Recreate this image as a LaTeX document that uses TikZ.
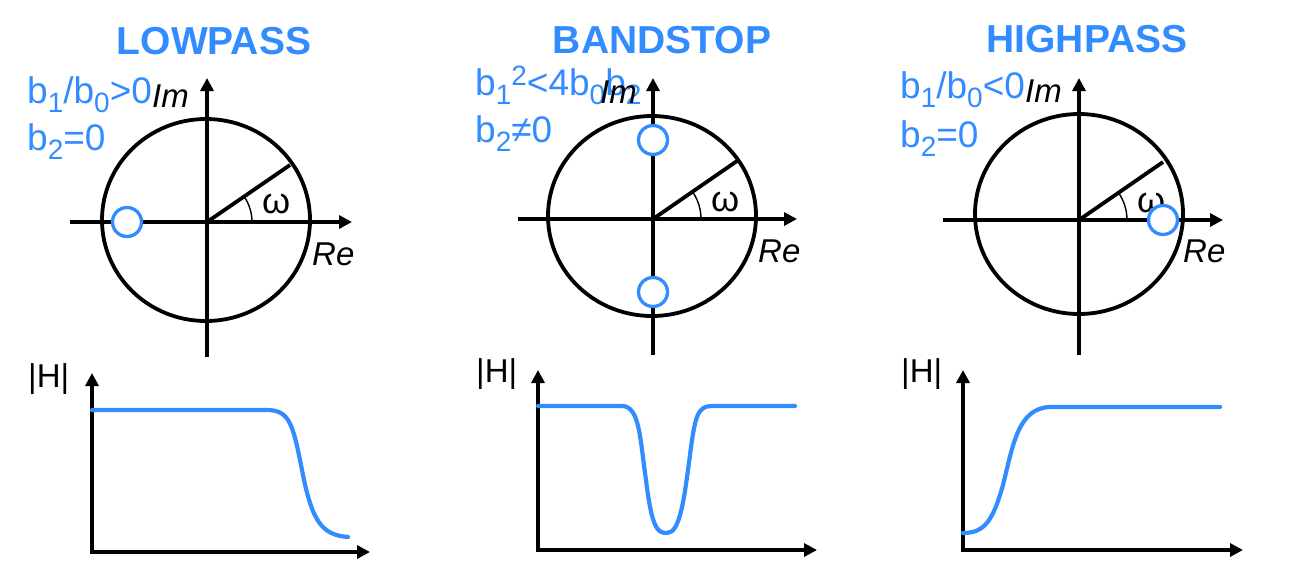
\documentclass[tikz,border=0pt]{standalone}
\usepackage{fontspec}
\setmainfont{Liberation Sans}
\usepackage{tikz}
\usetikzlibrary{arrows.meta,positioning}
\definecolor{zblue}{RGB}{51,140,255}
\newcommand{\lo}[1]{\raisebox{-9pt}{\fontsize{28}{28}\selectfont #1}}
\newcommand{\hi}[1]{\raisebox{10pt}{\fontsize{28}{28}\selectfont #1}}

\begin{document}
\begin{tikzpicture}[
  x=1pt, y=-1pt,
  axis/.style={line width=4pt, line join=miter,
               -{Triangle[length=13pt,width=13pt]}},
  gaxis/.style={line width=4pt, line join=miter,
                {Triangle[length=13pt,width=13pt]}-{Triangle[length=13pt,width=13pt]}},
  rim/.style={line width=3.8pt},
  angarc/.style={line width=1.4pt},
  zero/.style={circle, draw=zblue, fill=white, line width=3.3pt,
               minimum size=29pt, inner sep=0pt},
  resp/.style={draw=zblue, line width=4.2pt, line cap=round},
  title/.style={text=zblue, font=\fontsize{39}{39}\selectfont\bfseries,
                anchor=base, inner sep=0pt},
  cond/.style={text=zblue, font=\fontsize{37}{37}\selectfont,
               anchor=base west, inner sep=0pt},
  lbl/.style={font=\fontsize{33}{33}\selectfont, anchor=base west, inner sep=0pt},
  omg/.style={lbl, font=\fontsize{36}{36}\selectfont},
  axlbl/.style={lbl, font=\fontsize{33}{33}\selectfont\itshape}
]
  \useasboundingbox (0,0) rectangle (1292,566);

  % ---- lowpass
  \node[title] (lpT) at (214,54) {LOWPASS};
  \node[cond] (lpA) at (27,103) {b\lo{1}/b\lo{0}>0};
  \node[cond] (lpB) at (27,150) {b\lo{2}=0};
  \coordinate (lpO) at (207,222);
  \coordinate (lpW) at (70,222);
  \coordinate (lpE) at (352,222);
  \coordinate (lpS) at (207,357);
  \coordinate (lpN) at (207,78);
  \coordinate (lpR) at (290,165);
  \draw[rim] (206,220) ellipse [x radius=104, y radius=101];
  \draw[axis] (lpW) -- (lpE);
  \draw[axis] (lpS) -- (lpN);
  \draw[rim] (lpO) -- (lpR);
  \draw[angarc] (lpO) ++(45,0) arc[start angle=0, end angle=-34, radius=45];
  \node[axlbl] (lpIm) at (152,107) {Im};
  \node[axlbl] (lpRe) at (312,265) {Re};
  \node[omg] (lpW1) at (262,213) {ω};
  \node[zero] (lpZ) at (127,222) {};

  % ---- bandstop
  \node[title] (bsT) at (662,53) {BANDSTOP};
  \node[cond] (bsA) at (475,95) {b\lo{1}\hi{2}<4b\lo{0}b\lo{2}};
  \node[cond] (bsB) at (475,142) {b\lo{2}≠0};
  \coordinate (bsO) at (653,219);
  \coordinate (bsW) at (518,219);
  \coordinate (bsE) at (797,219);
  \coordinate (bsS) at (653,355);
  \coordinate (bsN) at (653,78);
  \coordinate (bsR) at (737,161);
  \draw[rim] (652,216) ellipse [x radius=104, y radius=100];
  \draw[axis] (bsW) -- (bsE);
  \draw[axis] (bsS) -- (bsN);
  \draw[rim] (bsO) -- (bsR);
  \draw[angarc] (bsO) ++(48,0) arc[start angle=0, end angle=-34, radius=48];
  \node[axlbl] (bsIm) at (600,103) {Im};
  \node[axlbl] (bsRe) at (758,262) {Re};
  \node[omg] (bsW1) at (711,211) {ω};
  \node[zero] (bsZ1) at (653,140) {};
  \node[zero] (bsZ2) at (653,292) {};

  % ---- highpass
  \node[title] (hpT) at (1087,52) {HIGHPASS};
  \node[cond] (hpA) at (900,98) {b\lo{1}/b\lo{0}<0};
  \node[cond] (hpB) at (900,147) {b\lo{2}=0};
  \coordinate (hpO) at (1079,220);
  \coordinate (hpW) at (943,220);
  \coordinate (hpE) at (1223,220);
  \coordinate (hpS) at (1079,355);
  \coordinate (hpN) at (1079,78);
  \coordinate (hpR) at (1163,162);
  \draw[rim] (1079,214) ellipse [x radius=104, y radius=100];
  \draw[axis] (hpW) -- (hpE);
  \draw[axis] (hpS) -- (hpN);
  \draw[rim] (hpO) -- (hpR);
  \draw[angarc] (hpO) ++(48,0) arc[start angle=0, end angle=-34, radius=48];
  \node[axlbl] (hpIm) at (1025,102) {Im};
  \node[axlbl] (hpRe) at (1183,262) {Re};
  \node[omg] (hpW1) at (1137,212) {ω};
  \node[zero] (hpZ) at (1163,220) {};

  % ---- magnitude responses
  \coordinate (lpG) at (92,552);
  \coordinate (lpGy) at (92,373);
  \coordinate (lpGx) at (370,552);
  \draw[gaxis] (lpGy) -- (lpG) -- (lpGx);
  \node[lbl] (lpH) at (28,387) {|H|};
  \draw[resp] (92,410) -- (267,410)
    .. controls (290,410) and (293,425) .. (302,470)
    .. controls (312,522) and (322,535) .. (348,537);

  \coordinate (bsG) at (538,550);
  \coordinate (bsGy) at (538,370);
  \coordinate (bsGx) at (817,550);
  \draw[gaxis] (bsGy) -- (bsG) -- (bsGx);
  \node[lbl] (bsH) at (476,382) {|H|};
  \draw[resp] (538,406) -- (622,406)
    .. controls (640,406) and (640,440) .. (646,480)
    .. controls (652,530) and (658,533) .. (667,533)
    .. controls (680,533) and (684,500) .. (690,455)
    .. controls (695,415) and (698,406) .. (712,406) -- (795,406);

  \coordinate (hpG) at (963,550);
  \coordinate (hpGy) at (963,370);
  \coordinate (hpGx) at (1243,550);
  \draw[gaxis] (hpGy) -- (hpG) -- (hpGx);
  \node[lbl] (hpH) at (901,382) {|H|};
  \draw[resp] (963,533)
    .. controls (985,533) and (993,520) .. (1003,485)
    .. controls (1013,445) and (1018,408) .. (1050,407) -- (1220,407);
\end{tikzpicture}
\end{document}
